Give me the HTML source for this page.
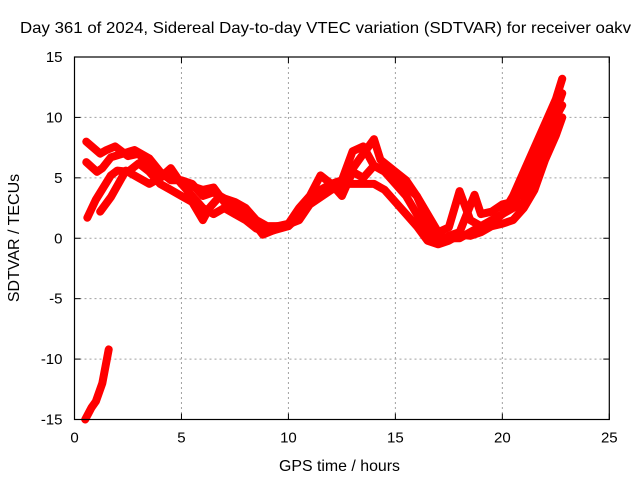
<!DOCTYPE html>
<html><head><meta charset="utf-8"><style>
body{margin:0;background:#fff;}
svg{display:block;font-family:"Liberation Sans",sans-serif;}
</style></head><body>
<svg id="chart" width="640" height="480" viewBox="0 0 640 480">
<rect width="640" height="480" fill="#fff"/>
<text x="20" y="33" font-size="16" textLength="611" lengthAdjust="spacingAndGlyphs" fill="#000">Day 361 of 2024, Sidereal Day-to-day VTEC variation (SDTVAR) for receiver oakv</text>
<text x="279" y="471" font-size="16" textLength="121" lengthAdjust="spacingAndGlyphs">GPS time / hours</text>
<text x="19" y="238" font-size="16" text-anchor="middle" transform="rotate(-90 19 238)">SDTVAR / TECUs</text>
<g id="grid"></g><g id="series"></g><g id="axes"></g>
</svg>
<script>
const xTicks=[0,5,10,15,20,25];
const yTicks=[-15,-10,-5,0,5,10,15];
const trackAx=[0.55,1.2,1.5,1.9,2.5,3,3.5,4,4.5,5,5.5,6,6.5,7,7.5,8,8.5,9,9.5,10,10.5,11,11.5,12,12.5,13,13.5,14,14.5,15,15.5,16,16.5,17,17.5,18,18.5,19,19.5,20,20.5,21,21.5,22,22.5,22.8];
const trackAy=[8.0,7.0,7.3,7.6,6.8,7.0,6.0,5.0,5.5,4.5,4.3,4.0,4.2,3.0,2.7,2.2,1.2,0.8,1.0,1.2,2.5,3.5,5.2,4.5,4.8,7.2,7.6,6.0,5.6,5.0,4.3,3.5,2.0,0.5,0.9,3.9,1.5,1.0,1.2,2.0,3.5,5.5,7.5,9.5,11.5,13.2];
const trackBx=[0.55,1.05,1.3,1.7,2.8,3.5,4,4.5,5,5.5,6,6.5,7,7.5,8,8.5,9,10,10.5,11,11.5,12,12.5,13,13.5,14,14.5,15,15.5,16,16.5,17,17.5,18,18.7,19,19.5,20,20.5,21,21.5,22,22.5,22.8];
const trackBy=[6.3,5.5,5.8,6.7,7.3,6.6,5.5,4.8,4.8,4.5,3.5,3.8,3.3,3.0,2.5,1.5,1.0,1.0,1.8,3.0,4.0,4.5,3.5,5.5,5.0,6.0,5.5,4.5,3.5,2.0,0.5,-0.3,0.2,0.5,3.6,2.0,2.2,2.8,3.0,4.0,6.0,8.5,10.5,12];
const trackCx=[0.6,1.0,1.7,2.0,2.5,3,3.5,4,4.5,5,5.5,6,6.3,6.8,7.5,8,8.5,8.8,9.5,10.5,11,12,12.7,13.5,14,14.5,15,15.5,16,16.5,17,17.5,18,18.5,19,19.5,20,20.5,21,21.5,22,22.5,22.8];
const trackCy=[1.7,3.2,5.2,5.6,5.5,6.2,5.5,4.5,4.0,3.5,3.0,1.5,2.5,3.5,2.5,2.0,1.0,0.3,0.8,1.5,2.8,4.0,4.5,4.5,4.5,4.0,3.0,2.0,1.0,-0.2,-0.5,-0.2,0.3,0.2,0.5,1.0,1.2,1.5,2.5,4.0,6.5,8.5,10.0];
const trackDx=[1.2,1.7,2.4,3,3.5,4,4.5,5,5.5,6,6.5,7,7.5,8,8.5,9,10,10.5,11,11.5,12,12.7,13.3,14,14.3,15,15.5,16,16.5,17,17.5,18,19,20,20.5,21,21.5,22,22.5,22.8];
const trackDy=[2.2,3.4,5.6,5.0,4.5,5.0,5.8,4.5,3.5,2.5,2.0,2.5,2.0,1.5,0.8,0.5,1.0,2.0,3.2,4.0,4.2,5.0,6.5,8.2,6.5,5.5,4.8,3.5,1.5,0.2,0.0,0.0,1.0,2.0,2.5,3.0,5.0,7.5,10,11];
const trackEx=[0.5,0.8,1.0,1.3,1.6];
const trackEy=[-15,-14,-13.5,-12,-9.2];
const NS="http://www.w3.org/2000/svg";
const L=74.5,R=609.3,T=57,B=419.5;
function sx(v){return L+(v-0)/(25-0)*(R-L);}
function sy(v){return B-(v+15)/30*(B-T);}
function mk(t,a,p){const e=document.createElementNS(NS,t);for(const k in a)e.setAttribute(k,a[k]);p.appendChild(e);return e;}
const grid=document.getElementById('grid'),axes=document.getElementById('axes'),ser=document.getElementById('series');
xTicks.forEach(v=>{
  if(v>0&&v<25){const g=mk('line',{x1:sx(v),x2:sx(v),y1:T,y2:B,stroke:'#a0a0a0','stroke-dasharray':'2,3'},grid);
  
  }
  const t=mk('text',{x:sx(v),y:B+23,'font-size':15,'text-anchor':'middle',fill:'#000'},axes);t.textContent=v;
  
  
  mk('line',{x1:sx(v),x2:sx(v),y1:B,y2:B-6,stroke:'#000'},axes);
  mk('line',{x1:sx(v),x2:sx(v),y1:T,y2:T+6,stroke:'#000'},axes);
});
yTicks.forEach(v=>{
  if(v>-15&&v<15){const g=mk('line',{x1:L,x2:R,y1:sy(v),y2:sy(v),stroke:'#a0a0a0','stroke-dasharray':'2,3'},grid);
  
  }
  const t=mk('text',{x:L-12,y:sy(v)+5,'font-size':15,'text-anchor':'end',fill:'#000'},axes);t.textContent=v;
  
  
  mk('line',{x1:L,x2:L+6,y1:sy(v),y2:sy(v),stroke:'#000'},axes);
  mk('line',{x1:R,x2:R-6,y1:sy(v),y2:sy(v),stroke:'#000'},axes);
});
const frame=mk('rect',{x:L,y:T,width:R-L,height:B-T,fill:'none',stroke:'#000','stroke-width':1.2},axes);


[[trackAx,trackAy],[trackBx,trackBy],[trackCx,trackCy],[trackDx,trackDy],[trackEx,trackEy]].forEach((tr,i)=>{
  const pts=tr[0].map((x,j)=>sx(x)+','+sy(tr[1][j])).join(' ');
  const p=mk('polyline',{points:pts,fill:'none',stroke:'#ff0000','stroke-width':8,'stroke-linejoin':'round','stroke-linecap':'round'},ser);
  
  
});
</script>
</body></html>
